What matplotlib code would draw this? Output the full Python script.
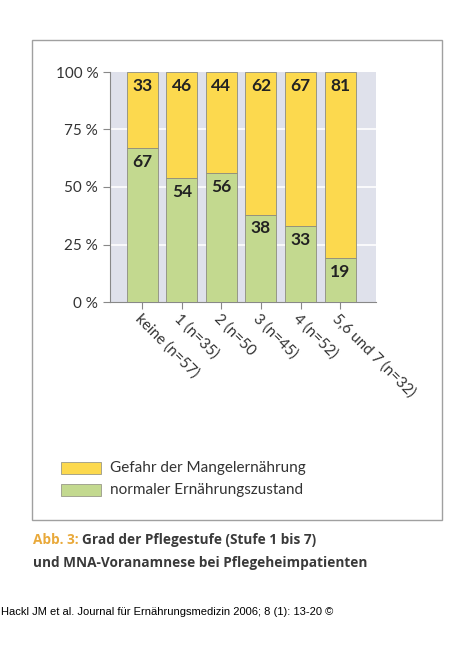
import matplotlib
matplotlib.use("Agg")
import matplotlib.pyplot as plt
from matplotlib.patches import Rectangle

# Daten
categories = ["keine (n=57)", "1 (n=35)", "2 (n=50", "3 (n=45)", "4 (n=52)", "5,6 und 7 (n=32)"]
normal = [67, 54, 56, 38, 33, 19]
gefahr = [33, 46, 44, 62, 67, 81]
yticks = [0, 25, 50, 75, 100]
ytick_labels = ["0 %", "25 %", "50 %", "75 %", "100 %"]

YELLOW = "#fcd94e"
GREEN = "#c3d98f"
BG = "#dfe1eb"
TXT = "#333333"

W, H = 472, 661
plt.rcParams["font.family"] = ["Lato", "DejaVu Sans"]
fig = plt.figure(figsize=(W / 100, H / 100), dpi=100)


def px(x0, y0, x1, y1):
    # Pixelrechteck -> Figurenkoordinaten
    return [x0 / W, 1 - y1 / H, (x1 - x0) / W, (y1 - y0) / H]


# äußerer Rahmen
fig.patches.append(Rectangle((32 / W, 1 - 520 / H), 410 / W, 480 / H,
                             transform=fig.transFigure, fill=False,
                             edgecolor="#a0a0a0", linewidth=1.0))

ax = fig.add_axes(px(110, 72, 376, 302))
ax.set_facecolor(BG)
x = list(range(len(categories)))
ax.bar(x, normal, width=0.785, color=GREEN, edgecolor="#8c8c80", linewidth=0.6, zorder=3)
ax.bar(x, gefahr, bottom=normal, width=0.785, color=YELLOW, edgecolor="#8c8c80", linewidth=0.6, zorder=3)
for i in x:
    ax.text(i, normal[i] - 6, str(normal[i]), ha="center", va="center",
            fontsize=12.5, fontweight="bold", color="#222222", zorder=4)
    ax.text(i, 94, str(gefahr[i]), ha="center", va="center",
            fontsize=12.5, fontweight="bold", color="#222222", zorder=4)

ax.set_xlim(-0.82, 5.91)
ax.set_ylim(0, 100)
ax.set_yticks(yticks)
ax.set_yticklabels(ytick_labels, fontsize=11, color=TXT)
for y in [25, 50, 75]:
    ax.axhline(y, color="white", linewidth=1.2, zorder=1)
ax.set_xticks(x)
ax.set_xticklabels(categories, rotation=-45, ha="left", va="top",
                   rotation_mode="anchor", fontsize=11, color=TXT)
ax.tick_params(axis="both", direction="out", length=5, color="#888888", width=0.8)
ax.tick_params(axis="x", pad=2)
for s in ["top", "right"]:
    ax.spines[s].set_visible(False)
ax.spines["left"].set_color("#888888")
ax.spines["bottom"].set_color("#888888")

# Legende
for (y0, c, lab) in [(462, YELLOW, "Gefahr der Mangelernährung"),
                     (484, GREEN, "normaler Ernährungszustand")]:
    fig.patches.append(Rectangle((61 / W, 1 - (y0 + 12) / H), 40 / W, 12 / H,
                                 transform=fig.transFigure, facecolor=c,
                                 edgecolor="#999988", linewidth=0.6))
    fig.text(110 / W, 1 - (y0 + 6) / H, lab, fontsize=11, color=TXT, va="center")

# Bildunterschrift
cap = dict(fontsize=9.8, fontweight="bold", va="center", family=["Open Sans", "DejaVu Sans"])
fig.text(33 / W, 1 - 540 / H, "Abb. 3:", color="#e9a93a", **cap)
fig.text(82 / W, 1 - 540 / H, "Grad der Pflegestufe (Stufe 1 bis 7)", color="#3a3a3a", **cap)
fig.text(33 / W, 1 - 563 / H, "und MNA-Voranamnese bei Pflegeheimpatienten", color="#3a3a3a", **cap)

fig.text(1 / W, 1 - 612 / H, "Hackl JM et al. Journal für Ernährungsmedizin 2006; 8 (1): 13-20 ©",
         fontsize=8, color="black", va="center", family=["Liberation Sans", "DejaVu Sans"])

plt.savefig("out.png", dpi=100)
plt.close()
